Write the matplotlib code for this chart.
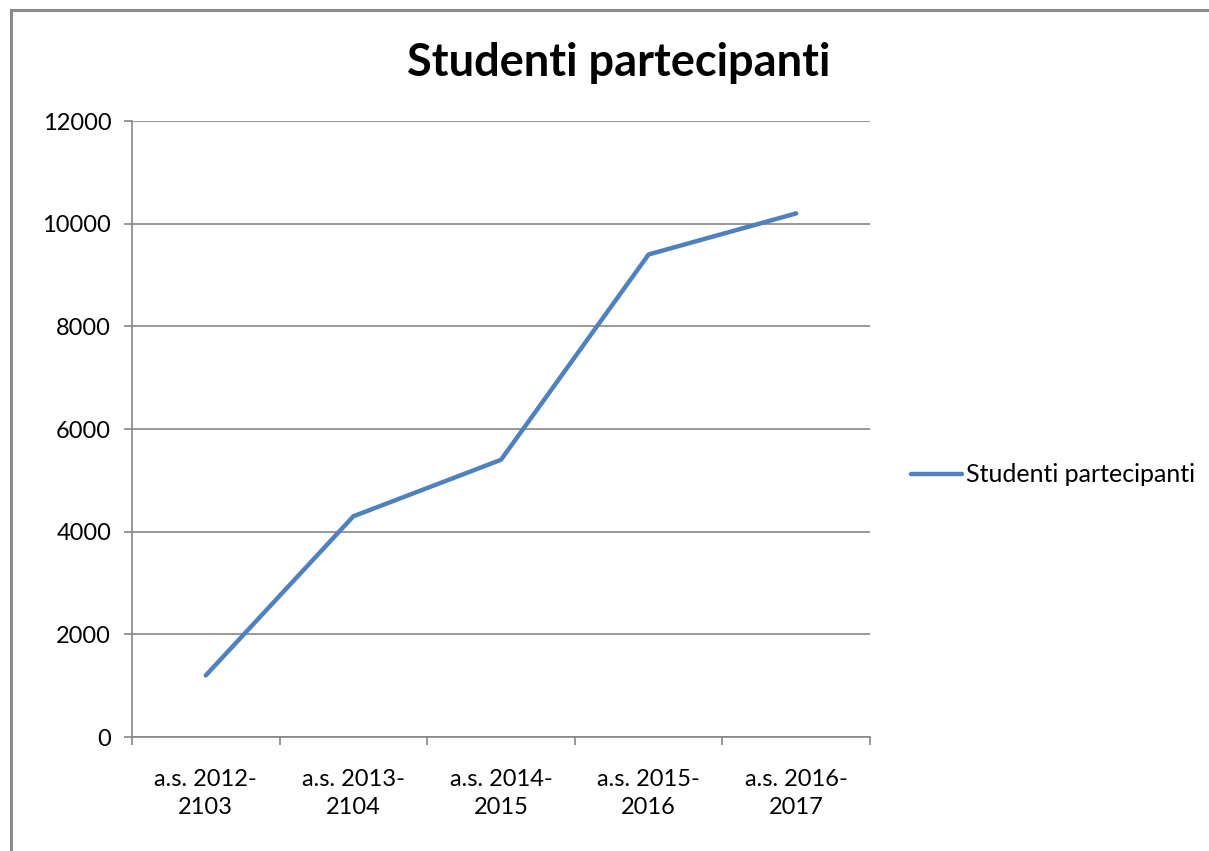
import matplotlib
matplotlib.use("Agg")
import matplotlib.pyplot as plt
from matplotlib.lines import Line2D

# Data
categories = ["a.s. 2012-\n2103", "a.s. 2013-\n2104", "a.s. 2014-\n2015",
              "a.s. 2015-\n2016", "a.s. 2016-\n2017"]
studenti = [1200, 4300, 5400, 9400, 10200]
series_name = "Studenti partecipanti"

plt.rcParams['font.family'] = ['Lato', 'DejaVu Sans']

fig = plt.figure(figsize=(12.09, 8.51), dpi=100)
ax = fig.add_axes([132 / 1209, (851 - 737) / 851, (870 - 132) / 1209, 616 / 851])

grid_col = "#868686"
x = list(range(len(categories)))
line, = ax.plot(x, studenti, color="#4F81BD", lw=3.2, solid_capstyle="round",
                solid_joinstyle="round", label=series_name, zorder=3)

ax.set_xlim(-0.5, len(categories) - 0.5)
ax.set_ylim(0, 12000)
ax.set_yticks(range(0, 12001, 2000))
ax.yaxis.grid(True, color=grid_col, lw=1.2)
ax.set_axisbelow(True)

# category boundaries as major ticks, labels on minor ticks
ax.set_xticks([i - 0.5 for i in range(len(categories) + 1)])
ax.set_xticklabels([])
ax.set_xticks(x, minor=True)
ax.set_xticklabels(categories, minor=True)
ax.tick_params(axis="x", which="minor", length=0, pad=23, labelsize=17)
ax.tick_params(axis="x", which="major", length=6, width=1.2, color=grid_col)
ax.tick_params(axis="y", length=6, width=1.2, color=grid_col, labelsize=17, pad=9)
for lbl in ax.get_xticklabels(minor=True):
    lbl.set_linespacing(1.4)

for s in ["top", "right"]:
    ax.spines[s].set_visible(False)
for s in ["left", "bottom"]:
    ax.spines[s].set_color(grid_col)
    ax.spines[s].set_linewidth(1.2)

fig.text(619 / 1209, 1 - 63 / 851, "Studenti partecipanti", ha="center", va="center",
         fontsize=32.5, fontweight="bold")

fig.legend(handles=[line], loc="center left", bbox_to_anchor=(911 / 1209, 1 - 475 / 851),
           frameon=False, fontsize=18, handlelength=2.05, handletextpad=0.15,
           borderpad=0, borderaxespad=0)

# outer chart frame
fig.add_artist(Line2D([11 / 1209, 11 / 1209], [0, 1 - 10 / 851], color="#8a8a8a", lw=2.2,
                      transform=fig.transFigure))
fig.add_artist(Line2D([11 / 1209, 1208 / 1209], [1 - 10 / 851, 1 - 10 / 851], color="#8a8a8a",
                      lw=2.2, transform=fig.transFigure))

fig.savefig("out.png", dpi=100)
